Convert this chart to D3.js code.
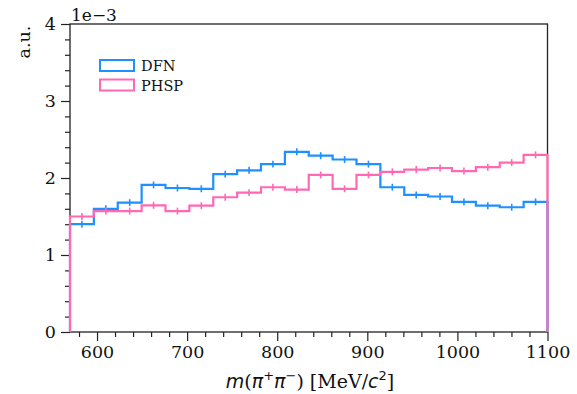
<!DOCTYPE html>
<html lang="en">
<head>
<meta charset="UTF-8" />
<title>m(pipi)</title>
<script src="https://d3js.org/d3.v7.min.js"></script>
<style>
  body { margin: 0; background: #fff; }
  text { font-family: "DejaVu Serif", serif; fill: #111; }
</style>
</head>
<body>
<svg width="577" height="394"></svg>
<script>
// bin edges in MeV (20 bins, 570 -> 1100)
const binEdges = d3.range(21).map(i => 570 + i * 26.5);
// values in units of 1e-3
const dfn  = [1.40, 1.60, 1.68, 1.91, 1.87, 1.86, 2.05, 2.10, 2.18, 2.34,
              2.29, 2.24, 2.18, 1.88, 1.78, 1.76, 1.69, 1.64, 1.62, 1.69];
const phsp = [1.50, 1.57, 1.57, 1.645, 1.57, 1.64, 1.75, 1.81, 1.88, 1.85,
              2.04, 1.86, 2.04, 2.08, 2.11, 2.13, 2.09, 2.14, 2.20, 2.30];
const dfnErr  = [0.045, 0.045, 0.045, 0.045, 0.045, 0.045, 0.045, 0.045, 0.045, 0.045,
                 0.045, 0.045, 0.045, 0.045, 0.045, 0.045, 0.045, 0.045, 0.045, 0.045];
const phspErr = [0.045, 0.045, 0.045, 0.045, 0.045, 0.045, 0.045, 0.045, 0.045, 0.045,
                 0.045, 0.045, 0.045, 0.045, 0.045, 0.045, 0.045, 0.045, 0.045, 0.045];
const xTicks = [600, 700, 800, 900, 1000, 1100];
const yTicks = [0, 1, 2, 3, 4];

const series = [
  { name: "DFN",  values: dfn,  err: dfnErr,  color: "#1e90ff" },
  { name: "PHSP", values: phsp, err: phspErr, color: "#ff69b4" }
];

const mLeft = 70, mRight = 547.5, mTop = 24, mBottom = 332;
const svg = d3.select("svg");

const x = d3.scaleLinear().domain([570, 1100]).range([mLeft, mRight]);
const y = d3.scaleLinear().domain([0, 4]).range([mBottom, mTop]);

// axes
const xAxis = svg.append("g").attr("transform", `translate(0,${mBottom})`)
  .call(d3.axisBottom(x).tickValues(xTicks).tickFormat(d3.format("d"))
    .tickSize(9).tickPadding(5).tickSizeOuter(0));
const xMinor = svg.append("g").attr("transform", `translate(0,${mBottom})`)
  .call(d3.axisBottom(x).tickValues(d3.range(580, 1100, 20).filter(v => v % 100 !== 0))
    .tickSize(5).tickFormat("").tickSizeOuter(0));
const yAxis = svg.append("g").attr("transform", `translate(${mLeft},0)`)
  .call(d3.axisLeft(y).tickValues(yTicks).tickFormat(d3.format("d"))
    .tickSize(9).tickPadding(5).tickSizeOuter(0));
const yMinor = svg.append("g").attr("transform", `translate(${mLeft},0)`)
  .call(d3.axisLeft(y).tickValues(d3.range(0.2, 4, 0.2).filter(v => Math.abs(v - Math.round(v)) > 0.01))
    .tickSize(5).tickFormat("").tickSizeOuter(0));
[xAxis, xMinor, yAxis, yMinor].forEach(g => {
  g.select(".domain").remove();
  g.selectAll("line").attr("stroke", "#222").attr("stroke-width", 1.2);
  g.selectAll("text").style("font-size", "17.5px").style("font-family", "DejaVu Serif").attr("fill", "#111");
});

// frame
svg.append("rect").attr("x", mLeft).attr("y", mTop)
  .attr("width", mRight - mLeft).attr("height", mBottom - mTop)
  .attr("fill", "none").attr("stroke", "#222").attr("stroke-width", 1.3);

// step histograms
series.forEach(s => {
  const pts = [[binEdges[0], 0]];
  s.values.forEach((v, i) => { pts.push([binEdges[i], v]); pts.push([binEdges[i + 1], v]); });
  pts.push([binEdges[binEdges.length - 1], 0]);
  svg.append("path")
    .attr("d", d3.line().x(d => x(d[0])).y(d => y(d[1]))(pts))
    .attr("fill", "none").attr("stroke", s.color).attr("stroke-width", 2.2)
    .attr("stroke-linejoin", "miter");
  svg.append("g").selectAll("line").data(s.values).join("line")
    .attr("x1", (d, i) => x((binEdges[i] + binEdges[i + 1]) / 2))
    .attr("x2", (d, i) => x((binEdges[i] + binEdges[i + 1]) / 2))
    .attr("y1", (d, i) => y(d - s.err[i]))
    .attr("y2", (d, i) => y(d + s.err[i]))
    .attr("stroke", s.color).attr("stroke-width", 1.6);
});

// legend
const leg = svg.append("g");
series.forEach((s, i) => {
  leg.append("rect").attr("x", 100).attr("y", 60 + i * 19.5)
    .attr("width", 34).attr("height", 11)
    .attr("fill", "none").attr("stroke", s.color).attr("stroke-width", 2);
  leg.append("text").attr("x", 141).attr("y", 71 + i * 19.5)
    .style("font-size", "14.5px").text(s.name);
});

// offset label
svg.append("text").attr("x", 71).attr("y", 21).style("font-size", "17px").text("1e\u22123");

// y label
svg.append("text").attr("transform", "translate(30,42) rotate(-90)")
  .attr("text-anchor", "middle").style("font-size", "17.5px").text("a.u.");

// x label
const xl = svg.append("text").attr("x", 310).attr("y", 388)
  .attr("text-anchor", "middle").style("font-size", "19px");
xl.append("tspan").style("font-family", "DejaVu Sans").style("font-style", "italic").text("m");
xl.append("tspan").text("(");
xl.append("tspan").style("font-family", "DejaVu Sans").style("font-style", "italic").text("\u03c0");
xl.append("tspan").attr("dy", -8).style("font-size", "13px").style("font-family", "DejaVu Sans").text("+");
xl.append("tspan").attr("dy", 8).style("font-family", "DejaVu Sans").style("font-style", "italic").text("\u03c0");
xl.append("tspan").attr("dy", -8).style("font-size", "13px").style("font-family", "DejaVu Sans").text("\u2212");
xl.append("tspan").attr("dy", 8).text(") [MeV/");
xl.append("tspan").style("font-family", "DejaVu Sans").style("font-style", "italic").text("c");
xl.append("tspan").attr("dy", -8).style("font-size", "13px").style("font-family", "DejaVu Sans").text("2");
xl.append("tspan").attr("dy", 8).text("]");
</script>
</body>
</html>
